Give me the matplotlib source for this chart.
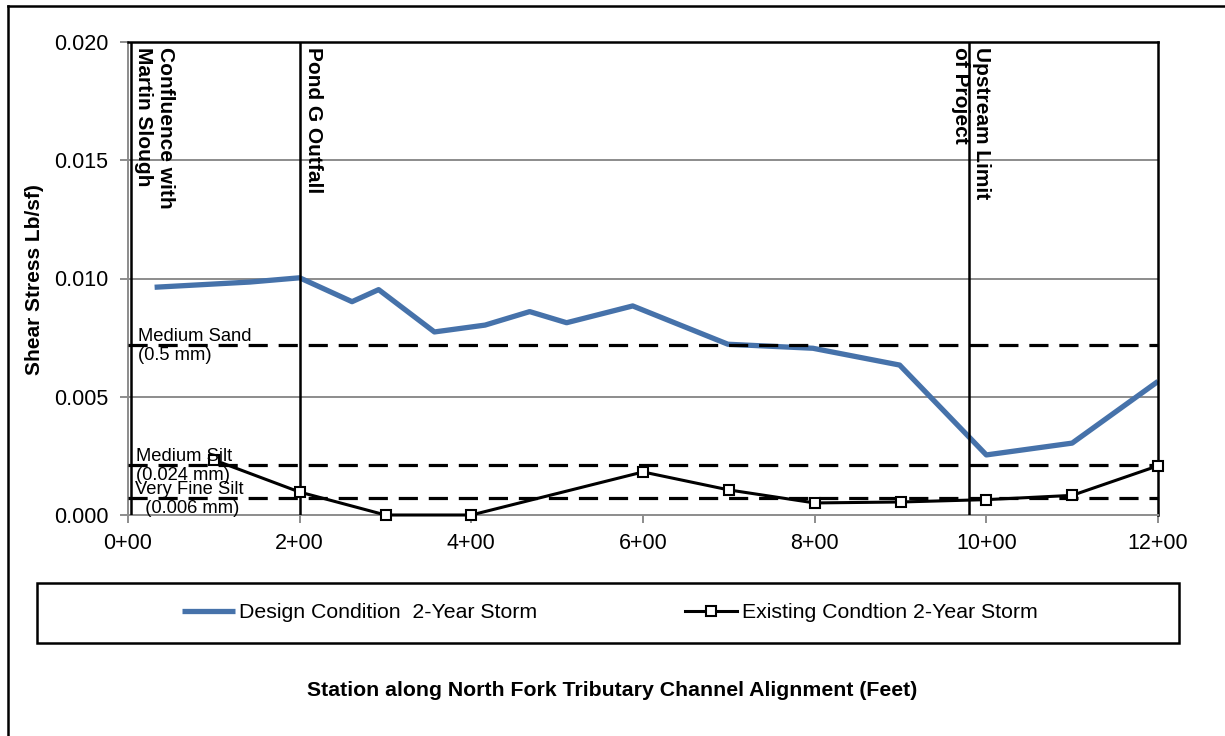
import matplotlib
matplotlib.use("Agg")
import matplotlib.pyplot as plt
from matplotlib.lines import Line2D
from matplotlib.patches import Rectangle

plt.rcParams['font.family'] = ['Liberation Sans', 'DejaVu Sans']

# Stations in hundreds of feet (1.0 == 1+00)
design_x = [0.31, 1.42, 2.0, 2.61, 2.92, 3.57, 4.16, 4.68, 5.11, 5.88, 6.99, 7.98, 8.99, 10.0, 11.0, 12.0]
design_y = [0.00963, 0.00985, 0.01003, 0.00902, 0.00953, 0.00774, 0.00803, 0.00860, 0.00813, 0.00884,
            0.00722, 0.00705, 0.00634, 0.00254, 0.00304, 0.00565]

existing_x = [1.0, 2.0, 3.0, 4.0, 6.0, 7.0, 8.0, 9.0, 10.0, 11.0, 12.0]
existing_y = [0.00233, 0.00097, 0.0, 0.0, 0.00182, 0.00106, 0.00051, 0.00055, 0.00065, 0.00083, 0.00208]

# Critical shear thresholds for sediment sizes
thresholds = [0.0072, 0.00213, 0.00072]
threshold_labels = ["Medium Sand\n(0.5 mm)", "Medium Silt\n(0.024 mm)", "Very Fine Silt\n  (0.006 mm)"]
threshold_label_x = [0.12, 0.095, 0.08]

# Landmarks along the channel
landmark_x = [0.035, 2.0, 9.8]
landmark_labels = ["Confluence with\nMartin Slough", "Pond G Outfall", "Upstream Limit\nof Project"]
landmark_label_x = [0.31, 2.16, 9.82]

x_ticks = [0, 2, 4, 6, 8, 10, 12]
x_tick_labels = ["0+00", "2+00", "4+00", "6+00", "8+00", "10+00", "12+00"]
y_ticks = [0.0, 0.005, 0.010, 0.015, 0.020]

series_names = ["Design Condition  2-Year Storm", "Existing Condtion 2-Year Storm"]

W, H = 1225, 736
fig = plt.figure(figsize=(W / 100, H / 100), dpi=100)
ax = fig.add_axes([128 / W, 1 - 515 / H, (1158 - 128) / W, (515 - 42) / H])

blue = "#4672AA"
grid_gray = "#8C8C8C"

ax.set_xlim(0, 12)
ax.set_ylim(0, 0.020)

for yv in y_ticks[1:-1]:
    ax.axhline(yv, color=grid_gray, lw=1.4, zorder=1)

ax.plot(design_x, design_y, color=blue, lw=3.8, solid_capstyle='butt', zorder=2,
        label=series_names[0])
ax.plot(existing_x, existing_y, color='black', lw=2.2, marker='s', ms=7.5,
        mfc='white', mec='black', mew=1.5, zorder=5, clip_on=False,
        label=series_names[1])

for yv in thresholds:
    ax.axhline(yv, color='black', lw=2.3, dashes=(6, 3.4), zorder=3)

for yv, lab, lx in zip(thresholds, threshold_labels, threshold_label_x):
    ax.text(lx, yv - 0.00005, lab, fontsize=13.2, ha='left', va='center', zorder=6,
            linespacing=1.15)

for xv in landmark_x:
    ax.axvline(xv, color='black', lw=1.8, zorder=4)

for lab, lx in zip(landmark_labels, landmark_label_x):
    ax.text(lx, 0.0198, lab, rotation=270, fontsize=15, fontweight='bold',
            ha='center', va='top', multialignment='left', linespacing=1.15, zorder=6)

ax.set_xticks(x_ticks)
ax.set_xticklabels(x_tick_labels)
ax.set_yticks(y_ticks)
ax.set_yticklabels([f"{v:.3f}" for v in y_ticks])
ax.tick_params(axis='both', labelsize=15.5, color=grid_gray, width=1.4, length=6, direction='out')
ax.tick_params(axis='y', pad=8)
ax.tick_params(axis='x', pad=7)

for side in ('left', 'bottom'):
    ax.spines[side].set_color(grid_gray)
    ax.spines[side].set_linewidth(1.4)
for side in ('top', 'right'):
    ax.spines[side].set_color('black')
    ax.spines[side].set_linewidth(1.8)

fig.text(35 / W, 1 - 280 / H, "Shear Stress Lb/sf)", rotation=90, fontsize=15,
         fontweight='bold', ha='center', va='center')
fig.text(612 / W, 1 - 690 / H, "Station along North Fork Tributary Channel Alignment (Feet)",
         fontsize=15.3, fontweight='bold', ha='center', va='center')

# Legend box
fig.patches.append(Rectangle((37 / W, 1 - 643 / H), (1179 - 37) / W, 60 / H,
                             transform=fig.transFigure, fill=False, ec='black', lw=1.8))
handles, labels = ax.get_legend_handles_labels()
fig.legend(handles, labels, loc='center', bbox_to_anchor=(610 / W, 1 - 613 / H),
           ncol=2, frameon=False, fontsize=15.3, handlelength=2.45, handletextpad=0.22,
           columnspacing=6.95)

# Outer border (left and top edges)
fig.add_artist(Line2D([8 / W, 8 / W], [0, 1 - 6 / H], transform=fig.transFigure,
                      color='black', lw=1.8))
fig.add_artist(Line2D([8 / W, 1.0], [1 - 6 / H, 1 - 6 / H], transform=fig.transFigure,
                      color='black', lw=1.8))

fig.savefig("out.png", dpi=100, facecolor='white')
